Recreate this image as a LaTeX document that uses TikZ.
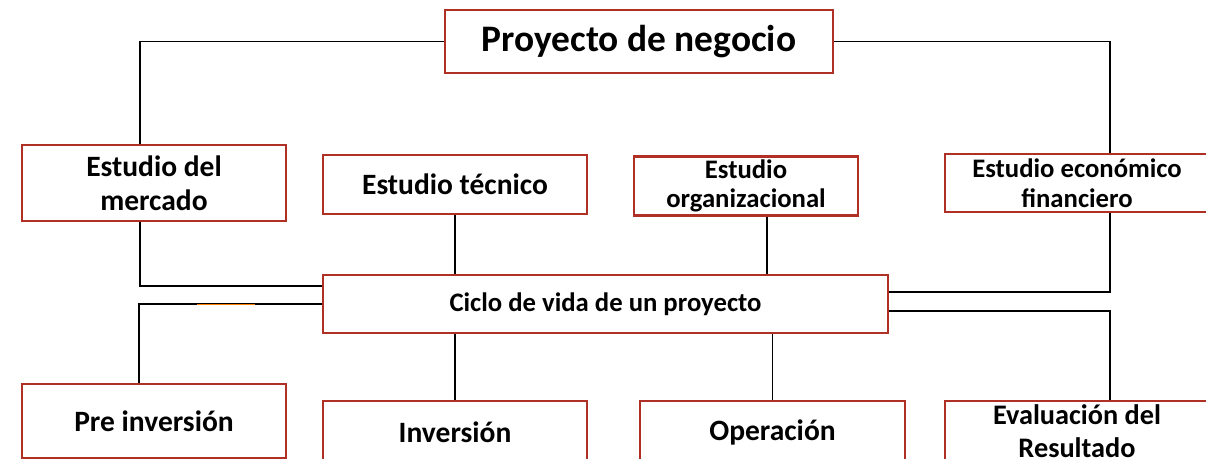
\documentclass[tikz,border=0pt]{standalone}
\usepackage{fontspec}
\setmainfont{Carlito}
\usepackage{tikz}
\usetikzlibrary{positioning}
\definecolor{boxred}{RGB}{176,48,38}

\begin{document}
\begin{tikzpicture}[x=0.02cm, y=-0.02cm, line width=0.6pt]
   \clip (0,0) rectangle (1206,459);
   \begin{scope}[every node/.style={rectangle,draw=boxred,line width=1.2pt,fill=white,
       align=center,inner sep=0pt,font=\bfseries\fontsize{16.8}{19.3}\selectfont}]
    \node (neg) [minimum width=7.76cm, minimum height=1.26cm, font=\bfseries\fontsize{21.3}{24}\selectfont] at (639,41.5) {Proyecto de negocio};
    \node (merc) [minimum width=5.28cm, minimum height=1.52cm] at (154,183) {Estudio del\\mercado};
    \node (tec) [minimum width=5.28cm, minimum height=1.18cm] at (455,184.5) {Estudio técnico};
    \node (org) [minimum width=4.48cm, minimum height=1.18cm, font=\bfseries\fontsize{15.2}{16.5}\selectfont] at (746,186) {Estudio\\organizacional};
    \node (eco) [minimum width=5.28cm, minimum height=1.16cm, font=\bfseries\fontsize{15.2}{17}\selectfont] at (1077,183) {Estudio económico\\financiero};
    \node (ciclo) [minimum width=11.3cm, minimum height=1.16cm, font=\bfseries\fontsize{15.2}{17}\selectfont] at (605.5,304) {Ciclo de vida de un proyecto};
    \node (pre) [minimum width=5.28cm, minimum height=1.48cm] at (154,421) {Pre inversión};
    \node (inv) [minimum width=5.28cm, minimum height=1.24cm] at (455,432) {Inversión};
    \node (oper) [minimum width=5.3cm, minimum height=1.24cm] at (772.5,432) {Operación};
    \node (eval) [minimum width=5.28cm, minimum height=1.2cm, font=\bfseries\fontsize{16.1}{18.7}\selectfont] at (1077,431) {Evaluación del\\Resultado};
   \end{scope}
   \begin{scope}[draw=black]
    \coordinate (o1) at ([xshift=0.42cm]org.south);
    \coordinate (e1) at ([xshift=0.66cm]eco.south);
    \draw (neg.west) -| ([xshift=-0.28cm]merc.north);
    \draw (neg.east) -| ([xshift=0.66cm]eco.north);
    \draw ([xshift=-0.28cm]merc.south) |- ([yshift=0.36cm]ciclo.west);
    \draw (ciclo.west) -| ([xshift=-0.3cm]pre.north);
    \draw (tec.south) -- (tec.south |- ciclo.north);
    \draw (o1) -- (o1 |- ciclo.north);
    \draw (e1) |- ([yshift=0.24cm]ciclo.east);
    \draw ([yshift=-0.14cm]ciclo.east) -| ([xshift=0.66cm]eval.north);
    \draw (inv.north) -- (inv.north |- ciclo.south);
    \draw (oper.north) -- (oper.north |- ciclo.south);
    \draw [orange] (197,304.5) -- (255,304.5);
   \end{scope}
\end{tikzpicture}
\end{document}
